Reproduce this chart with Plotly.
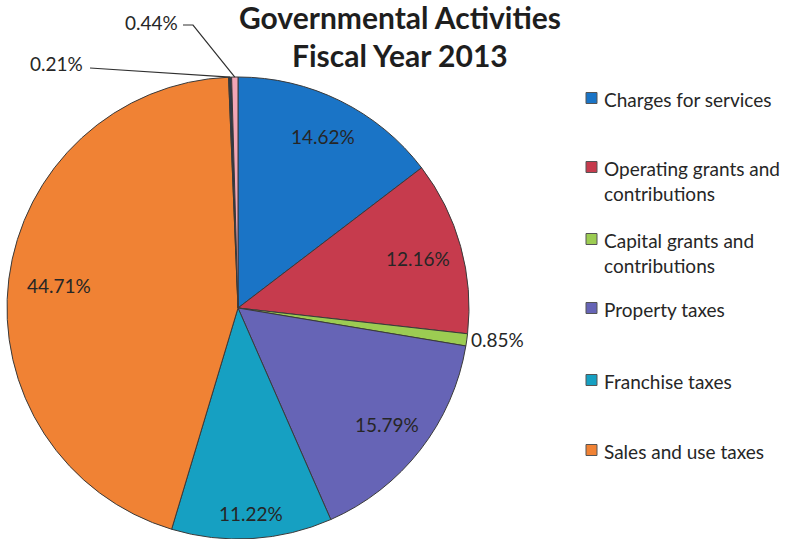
import math
import plotly.graph_objects as go

# Revenue shares, governmental activities, FY2013 (percent of total)
categories = [
    "Charges for services",
    "Operating grants and contributions",
    "Capital grants and contributions",
    "Property taxes",
    "Franchise taxes",
    "Sales and use taxes",
    "Investment earnings",
    "Miscellaneous",
]
legend_text = [
    "Charges for services",
    "Operating grants and<br>contributions",
    "Capital grants and<br>contributions",
    "Property taxes",
    "Franchise taxes",
    "Sales and use taxes",
]
shares = [14.62, 12.16, 0.85, 15.79, 11.22, 44.71, 0.21, 0.44]

colors = ["#1a74c6", "#c63b4d", "#9ccc52", "#6664b6", "#16a0c2", "#f08234",
          "#2e3a48", "#f2a6b6"]

W, H = 788, 539
CX, CY, R = 238, 308, 231          # pie centre and radius in pixels
FONT = "Lato"
TXT = "#262626"


def px(x):
    return x / W


def py(y):
    return 1 - y / H


def edge_point(i, k=1.0):
    """Pixel position at radius k*R on the mid-angle of slice i (clockwise from top)."""
    total = sum(shares)
    start = sum(shares[:i])
    ang = math.radians((start + shares[i] / 2) / total * 360)
    return CX + k * R * math.sin(ang), CY - k * R * math.cos(ang)


fig = go.Figure(go.Pie(
    labels=categories,
    values=shares,
    sort=False,
    direction="clockwise",
    rotation=0,
    marker=dict(colors=colors, line=dict(color="#3a3a3a", width=1)),
    textinfo="none",
    hoverinfo="label+percent",
    showlegend=False,
    domain=dict(x=[px(CX - R), px(CX + R)], y=[py(CY + R), py(CY - R)]),
))

annotations = []
shapes = []

# Percentage labels inside the larger slices
inside_k = [0.83, 0.81, None, 0.82, 0.89, 0.78]
for i, k in enumerate(inside_k):
    if k is None:
        continue
    x, y = edge_point(i, k)
    annotations.append(dict(
        x=px(x), y=py(y), xref="paper", yref="paper",
        text=f"{shares[i]:.2f}%", showarrow=False,
        font=dict(family=FONT, size=19, color=TXT),
        xanchor="center", yanchor="middle"))

# Small slice on the right edge
x, y = edge_point(2, 1.0)
annotations.append(dict(
    x=px(x + 2), y=py(y), xref="paper", yref="paper",
    text=f"{shares[2]:.2f}%", showarrow=False,
    font=dict(family=FONT, size=19, color=TXT),
    xanchor="left", yanchor="middle"))

# Two tiny slices at the top with leader lines
leaders = {
    6: dict(path=[(90, 68)], text_at=(85, 63)),
    7: dict(path=[(193, 25), (183, 25)], text_at=(180, 22)),
}
for i, spec in leaders.items():
    ex, ey = edge_point(i, 1.0)
    pts = [(ex, ey)] + spec["path"]
    d = "M " + " L ".join(f"{px(a)},{py(b)}" for a, b in pts)
    shapes.append(dict(type="path", path=d, xref="paper", yref="paper",
                       line=dict(color="#303030", width=1.2)))
    tx, ty = spec["text_at"]
    annotations.append(dict(
        x=px(tx), y=py(ty), xref="paper", yref="paper",
        text=f"{shares[i]:.2f}%", showarrow=False,
        font=dict(family=FONT, size=19, color=TXT),
        xanchor="right", yanchor="middle"))

# Title
for line, yy in (("Governmental Activities", 17), ("Fiscal Year 2013", 55)):
    annotations.append(dict(
        x=px(400), y=py(yy), xref="paper", yref="paper", text=f"<b>{line}</b>",
        showarrow=False, font=dict(family=FONT, size=30, color="#1e1e1e"),
        xanchor="center", yanchor="middle"))

# Legend: square swatch + text, first line aligned with swatch
legend_rows = [98, 167, 239, 308, 380, 450]
for i, (label, yy) in enumerate(zip(legend_text, legend_rows)):
    shapes.append(dict(type="rect", xref="paper", yref="paper",
                       x0=px(586), x1=px(597), y0=py(yy + 5.5), y1=py(yy - 5.5),
                       fillcolor=colors[i], line=dict(color="#555555", width=1)))
    annotations.append(dict(
        x=px(602), y=py(yy - 12), xref="paper", yref="paper",
        text=label, showarrow=False, align="left",
        font=dict(family=FONT, size=19, color=TXT),
        xanchor="left", yanchor="top"))

fig.update_layout(
    width=W, height=H,
    margin=dict(l=0, r=0, t=0, b=0),
    paper_bgcolor="white", plot_bgcolor="white",
    annotations=annotations, shapes=shapes,
)

fig.write_html("out.html")
